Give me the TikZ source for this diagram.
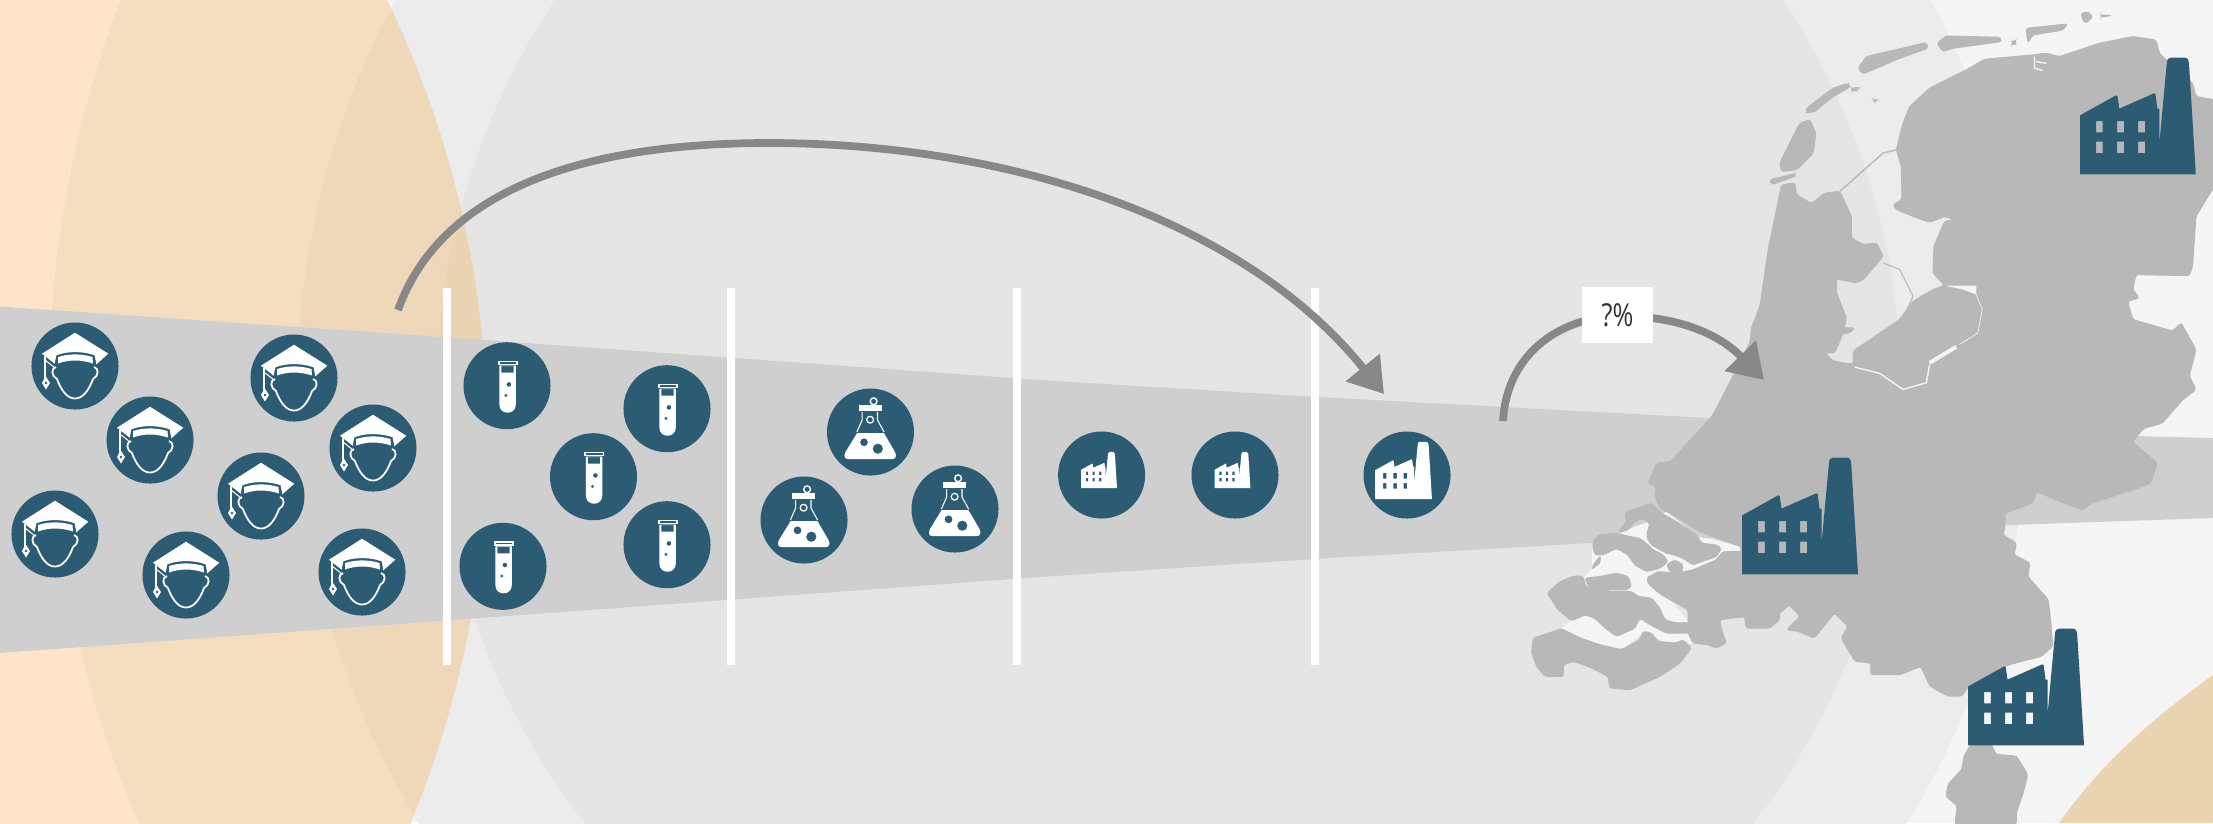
\documentclass[tikz,border=0pt]{standalone}
\usepackage{fontspec}
\setmainfont[FakeStretch=0.8]{Open Sans}
\usetikzlibrary{arrows.meta}
\definecolor{nlpeach}{RGB}{254,229,202}
\definecolor{nlpeachb}{RGB}{245,221,192}
\definecolor{nlpeachc}{RGB}{239,216,185}
\definecolor{nlpeachd}{RGB}{234,212,178}
\definecolor{nlpaper}{RGB}{245,245,245}
\definecolor{nlringa}{RGB}{236,236,236}
\definecolor{nlringb}{RGB}{229,229,229}
\definecolor{nlband}{RGB}{207,207,207}
\definecolor{nlmap}{RGB}{184,184,184}
\definecolor{nlblue}{RGB}{44,92,116}
\definecolor{nlarrow}{RGB}{136,136,136}
\tikzset{
  %% ---- boxes ----
  iconcirc/.style = {circle, fill=nlblue, minimum size=0.87cm, inner sep=0pt},
  pctbox/.style   = {rectangle, fill=white, minimum width=0.71cm, minimum height=0.56cm,
                     inner sep=0pt, font=\fontsize{9}{11}\selectfont, text=black!80},
  barline/.style  = {line width=2.3pt, color=white},
  mapland/.style  = {fill=nlmap, draw=nlmap, line width=0.3pt, rounded corners=0.25mm},
  %% ---- arrows ----
  arcarrow/.style = {-{Triangle[length=3.4mm,width=4.2mm]}, line width=2.2pt, color=nlarrow},
  %% ---- icons ----
  pics/gradcap/.style = {code={
    \fill[white] (-33,-12.3) -- (0,-33.3) -- (33.3,-12.3) -- (21.3,-1.7) -- (19.7,-10.7)
      .. controls (8,-15) and (-8,-15) .. (-18.7,-10.7) -- (-20.3,-2.3) -- cycle;
    \fill[white] (-17,-9) .. controls (-6,-12.5) and (6,-12.5) .. (17.5,-9) -- (18,-2.5)
      .. controls (6,-6.5) and (-6,-6.5) .. (-17,-2.5) -- cycle;
    \draw[white, line width=0.5pt] (-19,1) .. controls (-24,2) and (-24,10) .. (-18,13)
      .. controls (-14,24) and (-8,32.5) .. (0,32.5) .. controls (8,32.5) and (14,24) .. (18,13)
      .. controls (24,10) and (24,2) .. (19,1);
    \draw[white, line width=0.45pt] (-30,-10) -- (-30,12);
    \draw[white, line width=0.3pt] (-30,-6) -- (-20,2);
    \fill[white, even odd rule] (-29.5,10) -- (-25,17) -- (-29,23.5) -- (-33,17) -- cycle
      (-29,17) circle (1.6);
  }},
  pics/testtube/.style = {code={
    \fill[white] (-9.2,-25) rectangle (10.7,-20.6);
    \fill[nlblue] (-7.5,-23.4) rectangle (9,-22.2);
    \fill[white, even odd rule] (-7.6,-20) -- (8.8,-20) -- (8.8,18.8)
      .. controls (8.8,24) and (5,27) .. (0.6,27) .. controls (-4,27) and (-7.6,24) .. (-7.6,18.8) -- cycle
      (-5.7,-19.5) rectangle (6.5,-13)
      (1.9,-1.3) circle (2.4)
      (-1.1,9.7) circle (1.8);
  }},
  pics/flask/.style = {code={
    \draw[white, line width=0.4pt] (3.1,-30.7) circle (3.4);
    \fill[white] (-11.9,-27.3) rectangle (11,-21.3);
    \draw[white, line width=0.3pt] (-8.4,-20) -- (-8.4,-12) -- (-13.6,0);
    \draw[white, line width=0.3pt] (7,-20) -- (7,-12) -- (13.6,0);
    \draw[white, line width=0.35pt] (-0.4,-12.3) circle (3.4);
    \fill[white, even odd rule] (-13.4,1) -- (13.4,1) -- (24.5,20)
      .. controls (26.5,24) and (25,27) .. (22,27) -- (-22.5,27)
      .. controls (-26,27) and (-27,24) .. (-25,20) -- cycle
      (-6.5,10.3) circle (4)
      (7.3,16.7) circle (5.2);
  }},
  pics/factory/.style = {code={
    \fill[pic actions, even odd rule, shift={(-57.8,58.3)}]
      (0,0) -- (0,-59) -- (36,-79) -- (37.5,-78) -- (39.3,-65.7) -- (74,-81) -- (75.5,-80)
      -- (77.3,-65.7) -- (79.3,-65.7) -- (79.3,-30.7) -- (86.7,-110.7)
      .. controls (87,-115) and (88,-116.7) .. (91,-116.7) -- (104,-116.7)
      .. controls (107.5,-116.7) and (108.5,-115) .. (109,-110.7) -- (115.7,-2) -- (115.7,0) -- cycle
      (16,-53.3) rectangle (22.7,-42) (37,-53.3) rectangle (44,-42) (58,-53.3) rectangle (65,-42)
      (16,-32.7) rectangle (22.7,-21.3) (37,-32.7) rectangle (44,-21.3) (58,-32.7) rectangle (65,-21.3);
  }},
}
\begin{document}
\begin{tikzpicture}[x=0.01cm, y=-0.01cm]

  \path[use as bounding box, clip] (0,0) rectangle (2213,823);

  %% ---- background rings ----
  \fill[nlpaper] (0,0) rectangle (2213,823);
  \fill[nlringa] (1163,391) ellipse (866 and 844);
  \fill[nlringb] (1169,391) ellipse (732 and 718);
  \fill[nlpeachd] (2213,675) .. controls (2150,720) and (2100,765) .. (2059,823)
    -- (2213,823) -- cycle;
  \begin{scope}
    \clip (-517,437.6) circle (1004);
    \fill[nlpeach] (-600,-10) rectangle (600,830);
    \fill[nlpeachb] (1138,389) circle (1089);
    \fill[nlpeachc] (1163,391) ellipse (866 and 844);
    \fill[nlpeachd] (1169,391) ellipse (732 and 718);
  \end{scope}

  %% ---- grey band ----
  \fill[nlband] (0,306.5) -- (443,337) -- (1040,380) -- (1313,396.7) -- (1709,418)
    -- (2136,436) -- (2213,438) -- (2213,518) -- (2009,525) -- (1590,543) -- (1313,559)
    -- (1040,577) -- (443,620.7) -- (0,653) -- cycle;

  %% ---- map, north ----
  \begin{scope}[shift={(1700,0)}, x=0.003333cm, y=-0.003333cm]
    \path[mapland] (245,555) -- (285,550) -- (290,585) -- (335,612) -- (375,580) -- (420,575)
      -- (455,650) -- (455,715) -- (490,735) -- (530,730) -- (550,770) -- (525,800) -- (490,840)
      -- (470,850) -- (410,838) -- (410,880) -- (440,955) -- (430,1000) -- (405,1060) -- (375,1060)
      -- (400,1085) -- (460,1095) -- (460,1055) -- (600,960) -- (640,905) -- (700,870) -- (735,858)
      -- (700,820) -- (703,740) -- (735,665) -- (765,660) -- (735,650) -- (690,668) -- (640,650)
      -- (590,630) -- (580,615) -- (607,600) -- (605,500) -- (590,450) -- (610,370) -- (630,320)
      -- (690,265) -- (800,210) -- (855,178) -- (1000,165) -- (1040,160) -- (1080,170) -- (1200,130)
      -- (1300,110) -- (1370,120) -- (1380,160) -- (1400,180) -- (1480,250) -- (1490,290)
      -- (1545,300) -- (1545,560) -- (1490,650) -- (1480,800) -- (1470,828) -- (1310,825)
      -- (1300,870) -- (1320,895) -- (1285,905) -- (1300,960) -- (1420,995) -- (1445,970)
      -- (1490,1050) -- (1470,1130) -- (1490,1170) -- (1440,1210) -- (1390,1265) -- (30,1265)
      -- (150,1030) -- (155,985) -- (180,920) -- (205,750) -- cycle;
    \path[mapland] (255,460) -- (300,370) -- (330,360) -- (348,400) -- (340,460) -- (290,510)
      -- (245,515) -- (240,490) -- cycle;
    \path[mapland] (210,540) -- (285,522) -- (285,530) -- (215,555) -- cycle;
    \path[mapland] (320,325) -- (400,265) -- (445,250) -- (450,262) -- (400,290) -- (345,335)
      -- (320,340) -- cycle;
    \path[mapland] (475,205) -- (500,170) -- (680,128) -- (685,145) -- (600,175) -- (490,222) -- cycle;
    \path[mapland] (712,130) -- (740,108) -- (900,112) -- (905,125) -- (760,145) -- (730,155) -- cycle;
    \path[mapland] (980,85) -- (1105,72) -- (1090,90) -- (1000,105) -- (985,128) -- cycle;
    \path[mapland] (1145,40) -- (1165,35) -- (1180,50) -- (1160,70) -- (1150,60) -- cycle;
    \path[mapland] (1205,45) -- (1235,47) -- (1205,51) -- cycle;
    \path[mapland] (455,265) -- (480,262) -- (470,272) -- (458,272) -- cycle;
    \path[mapland] (520,298) -- (535,300) -- (525,305) -- cycle;
    \path[mapland] (938,125) -- (948,122) -- (948,132) -- (938,133) -- cycle;
    \path[mapland] (425,985) -- (465,985) -- (450,1000) -- (428,1005) -- cycle;
    \draw[nlmap, line width=0.4pt] (420,575) -- (550,460) -- (590,450);
    \draw[nlmap, line width=0.3pt] (550,790) -- (600,810) -- (640,890) -- (620,935);
    %% water along the polder
    \fill[nlpaper] (735,858) -- (830,858) -- (830,885) -- (790,870) -- cycle;
    \draw[nlpaper, line width=0.4pt] (465,1103) -- (540,1122) -- (610,1170) -- (680,1150) -- (690,1095);
    \draw[nlpaper, line width=1.1pt] (690,1090) -- (770,1042);
    \draw[nlpaper, line width=0.2pt] (780,1035) -- (835,1000) -- (848,930) -- (830,885);
    \draw[nlpaper, line width=0.4pt] (1005,170) -- (1005,205) -- (1030,212) (1010,185) -- (1040,190);
  \end{scope}

  %% ---- map, south ----
  \begin{scope}[shift={(1500,400)}, x=0.004545cm, y=-0.003333cm]
    \path[mapland] (490,0) -- (1500,0) -- (1455,70) -- (1415,85) -- (1390,125) -- (1445,190)
      -- (1430,250) -- (1390,270) -- (1300,310) -- (1280,330) -- (1240,310) -- (1180,275)
      -- (1170,310) -- (1110,340) -- (1110,380) -- (1105,405) -- (1135,430) -- (1130,465)
      -- (1165,490) -- (1160,530) -- (1205,600) -- (1210,660) -- (1215,740) -- (1190,770)
      -- (1120,795) -- (1030,860) -- (1015,890) -- (985,890) -- (945,860) -- (925,800)
      -- (880,825) -- (815,825) -- (815,790) -- (780,785) -- (750,715) -- (765,680) -- (735,640)
      -- (700,700) -- (690,715) -- (655,695) -- (630,690) -- (660,650) -- (635,615) -- (600,660)
      -- (590,685) -- (540,680) -- (540,640) -- (532,438) -- (355,322) -- (345,262) -- (325,250)
      -- (345,190) -- (375,185) -- (465,50) -- cycle;
    \path[mapland] (1035,1035) -- (1080,1035) -- (1090,1065) -- (1135,1070) -- (1160,1125)
      -- (1150,1180) -- (1135,1240) -- (1135,1275) -- (1000,1275) -- (1005,1220) -- (980,1190)
      -- (985,1155) -- (1015,1110) -- (1020,1070) -- cycle;
  \end{scope}

  %% ---- map, delta ----
  \begin{scope}[shift={(1520,480)}, x=0.003333cm, y=-0.003333cm]
    \fill[nlpaper] (218,200) -- (320,150) -- (400,120) -- (440,95) -- (535,170) -- (660,200)
      -- (660,220) -- (600,240) -- (520,270) -- (400,300) -- (510,430) -- (520,490) -- (470,500)
      -- (420,490) -- (370,460) -- (305,510) -- (240,495) -- (125,447) -- (155,420) -- (82,340)
      -- (195,290) -- (215,265) -- cycle;
    \path[mapland] (380,295) -- (415,275) -- (470,280) -- (520,270) -- (590,240) -- (610,215)
      -- (665,215) -- (665,200) -- (590,175) -- (530,150) -- (470,110) -- (420,85) -- (405,45)
      -- (410,20) -- (385,5) -- (420,0) -- (780,0) -- (780,420) -- (750,445) -- (680,445)
      -- (675,410) -- (600,420) -- (605,450) -- (620,490) -- (590,505) -- (565,495) -- (520,490)
      -- (505,460) -- (505,390) -- (470,370) -- (425,345) -- (400,325) -- (385,310) -- cycle;
    \path[mapland] (315,98) -- (395,70) -- (425,100) -- (470,125) -- (530,165) -- (545,190)
      -- (590,195) -- (605,205) -- (590,230) -- (545,245) -- (520,255) -- (490,235) -- (465,225)
      -- (440,220) -- (395,195) -- (380,170) -- (390,130) -- (370,115) -- (345,125) -- (325,150)
      -- (295,158) -- (320,125) -- cycle;
    \path[mapland] (218,190) -- (235,165) -- (290,160) -- (330,170) -- (360,175) -- (385,195)
      -- (400,210) -- (430,225) -- (445,245) -- (420,265) -- (380,275) -- (345,255) -- (325,225)
      -- (290,205) -- (250,225) -- (225,225) -- cycle;
    \path[mapland] (440,255) -- (465,240) -- (490,255) -- (485,280) -- (455,280) -- cycle;
    \path[mapland] (195,295) -- (240,290) -- (290,280) -- (325,290) -- (335,320) -- (320,330)
      -- (265,330) -- (235,350) -- (220,345) -- (205,320) -- cycle;
    \path[mapland] (82,340) -- (120,305) -- (165,288) -- (190,290) -- (195,315) -- (230,355)
      -- (260,335) -- (335,335) -- (355,350) -- (395,355) -- (420,385) -- (435,420) -- (470,430)
      -- (505,428) -- (510,460) -- (440,460) -- (400,440) -- (360,415) -- (345,445) -- (290,470)
      -- (250,440) -- (225,415) -- (195,405) -- (155,423) -- (115,390) -- cycle;
    \path[mapland] (40,475) -- (125,447) -- (180,475) -- (240,495) -- (305,510) -- (360,480)
      -- (370,455) -- (395,460) -- (415,485) -- (470,490) -- (490,480) -- (515,505) -- (480,550)
      -- (420,590) -- (330,630) -- (270,625) -- (265,590) -- (205,560) -- (160,545) -- (130,555)
      -- (130,590) -- (75,590) -- (50,560) -- (35,520) -- cycle;
    \path[mapland] (215,268) -- (240,250) -- (242,228) -- (225,248) -- cycle;
  \end{scope}

  %% ---- white bars ----
  \draw[barline] (447,288) -- (447,665);
  \draw[barline] (731,288) -- (731,665);
  \draw[barline] (1017,288) -- (1017,665);
  \draw[barline] (1315,288) -- (1315,665);

  %% ---- graduates ----
  \node[iconcirc] (grad1) at (75,366) {};    \pic at (grad1) {gradcap};
  \node[iconcirc] (grad2) at (150,440) {};   \pic at (grad2) {gradcap};
  \node[iconcirc] (grad3) at (55,534) {};    \pic at (grad3) {gradcap};
  \node[iconcirc] (grad4) at (186,575) {};   \pic at (grad4) {gradcap};
  \node[iconcirc] (grad5) at (294,378) {};   \pic at (grad5) {gradcap};
  \node[iconcirc] (grad6) at (261,496) {};   \pic at (grad6) {gradcap};
  \node[iconcirc] (grad7) at (373,448) {};   \pic at (grad7) {gradcap};
  \node[iconcirc] (grad8) at (362,572) {};   \pic at (grad8) {gradcap};

  %% ---- test tubes ----
  \node[iconcirc] (tube1) at (507,385.7) {}; \pic at (tube1) {testtube};
  \node[iconcirc] (tube2) at (667,408.7) {}; \pic at (tube2) {testtube};
  \node[iconcirc] (tube3) at (593.5,476.7) {}; \pic at (tube3) {testtube};
  \node[iconcirc] (tube4) at (667,544.7) {}; \pic at (tube4) {testtube};
  \node[iconcirc] (tube5) at (503,566.3) {}; \pic at (tube5) {testtube};

  %% ---- flasks ----
  \node[iconcirc] (flask1) at (870.5,432) {}; \pic at (flask1) {flask};
  \node[iconcirc] (flask2) at (804,520) {};   \pic at (flask2) {flask};
  \node[iconcirc] (flask3) at (955,509) {};   \pic at (flask3) {flask};

  %% ---- factories ----
  \node[iconcirc] (fac1) at (1101.6,475) {};
  \pic[fill=white, scale=.31] at ([shift={(-2.6,-5)}]fac1) {factory};
  \node[iconcirc] (fac2) at (1235,475) {};
  \pic[fill=white, scale=.31] at ([shift={(-2.6,-5)}]fac2) {factory};
  \node[iconcirc] (fac3) at (1407,475) {};
  \pic[fill=white, scale=.49] at ([shift={(-3.5,-4.5)}]fac3) {factory};

  \pic[fill=nlblue] at (2137.8,116) {factory};
  \pic[fill=nlblue] at (1800,516) {factory};
  \pic[fill=nlblue] at (2026,687) {factory};

  %% ---- arrows ----
  \coordinate (loopfrom) at (398,310);
  \coordinate (looptop)  at (769,143);
  \coordinate (loopto)   at (1384,394);
  \coordinate (mapfrom)  at (1503,421);
  \coordinate (maptop)   at (1620,316);
  \coordinate (mapto)    at (1764,380);

  \draw[arcarrow] (loopfrom) .. controls (450,165) and (640,143) .. (looptop)
    .. controls (1000,143) and (1240,215) .. (loopto);
  \draw[arcarrow] (mapfrom) .. controls (1507,350) and (1565,316) .. (maptop)
    .. controls (1670,316) and (1715,330) .. (mapto);

  \node[pctbox] (pct) at (1617.5,315) {?\%};

\end{tikzpicture}
\end{document}
